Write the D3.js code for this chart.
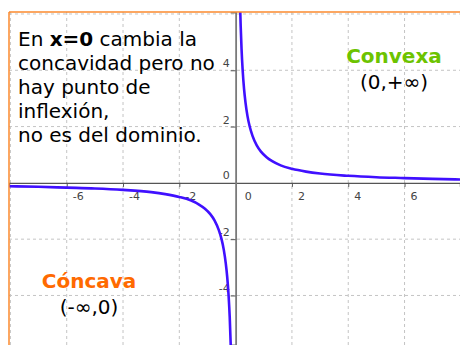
<!DOCTYPE html>
<html>
<head>
<meta charset="utf-8">
<style>
  body { margin: 0; background: #fff; }
  svg { display: block; }
  text { font-family: "DejaVu Sans", Verdana, sans-serif; }
  .grid line { stroke: #c4c4c4; stroke-width: 1; stroke-dasharray: 3,3; }
  .tick-label { font-size: 11px; fill: #444; }
</style>
<script src="https://cdn.jsdelivr.net/npm/d3@7"></script>
</head>
<body>
<svg width="460" height="345"></svg>
<script>

// y = 1/x
var xLeft  = [-8.1, -7, -6, -5, -4, -3, -2.5, -2, -1.6, -1.3, -1.1, -0.9, -0.75, -0.6, -0.5, -0.42, -0.35, -0.3, -0.25, -0.21, -0.17];
var yLeft  = [-0.12, -0.14, -0.17, -0.2, -0.25, -0.33, -0.4, -0.5, -0.62, -0.77, -0.91, -1.11, -1.33, -1.67, -2, -2.38, -2.86, -3.33, -4, -4.76, -5.88];
var xRight = [0.16, 0.18, 0.21, 0.25, 0.3, 0.35, 0.42, 0.5, 0.6, 0.75, 0.9, 1.1, 1.3, 1.6, 2, 2.5, 3, 4, 5, 6, 7, 8.1];
var yRight = [6.25, 5.56, 4.76, 4, 3.33, 2.86, 2.38, 2, 1.67, 1.33, 1.11, 0.91, 0.77, 0.62, 0.5, 0.4, 0.33, 0.25, 0.2, 0.17, 0.14, 0.12];

var xTicks = [-6, -4, -2, 0, 2, 4, 6];
var yTicks = [-4, -2, 0, 2, 4];
var xGrid = [-8, -6, -4, -2, 2, 4, 6];
var yGrid = [-4, -2, 2, 4, 6];

var textLines = [
  [{t: "En ", b: false}, {t: "x=0", b: true}, {t: " cambia la", b: false}],
  [{t: "concavidad pero no", b: false}],
  [{t: "hay punto de", b: false}],
  [{t: "inflexión,", b: false}],
  [{t: "no es del dominio.", b: false}]
];

var svg = d3.select("svg"),
  plotLeft = 9, plotTop = 12,
  width = +svg.attr("width"),
  height = +svg.attr("height");

var x = d3.scaleLinear().domain([-8.05, 7.97]).range([plotLeft, width]);
var y = d3.scaleLinear().domain([6.07, -5.76]).range([plotTop, height]);

svg.append("defs").append("clipPath").attr("id", "plot")
  .append("rect").attr("x", plotLeft).attr("y", plotTop)
  .attr("width", width - plotLeft).attr("height", height - plotTop);

var g = svg.append("g").attr("clip-path", "url(#plot)");

// rejilla
var grid = g.append("g").attr("class", "grid");
grid.selectAll(".gx").data(xGrid).enter().append("line")
  .attr("x1", function (d) { return x(d); })
  .attr("x2", function (d) { return x(d); })
  .attr("y1", plotTop).attr("y2", height);
grid.selectAll(".gy").data(yGrid).enter().append("line")
  .attr("y1", function (d) { return y(d); })
  .attr("y2", function (d) { return y(d); })
  .attr("x1", plotLeft).attr("x2", width);

// ejes
var xAxis = g.append("g")
  .attr("transform", "translate(0," + y(0) + ")")
  .call(d3.axisBottom(x).tickValues(xTicks.filter(function (d) { return d !== 0; }))
    .tickSize(4).tickFormat(""));
xAxis.select(".domain").attr("stroke", "#555").attr("stroke-width", 1.4);
xAxis.selectAll(".tick line").attr("stroke", "#555");

var yAxis = g.append("g")
  .attr("transform", "translate(" + x(0) + ",0)")
  .call(d3.axisLeft(y).tickValues(yTicks.filter(function (d) { return d !== 0; }))
    .tickSize(5).tickFormat(""));
yAxis.select(".domain").attr("stroke", "#7a7a7a").attr("stroke-width", 1.8);
yAxis.selectAll(".tick line").attr("stroke", "#555");

// etiquetas de los ejes
g.selectAll(".xl").data(xTicks).enter().append("text")
  .attr("class", "tick-label")
  .attr("x", function (d) { return x(d) + (d === 0 ? 9 : 6); })
  .attr("y", y(0) + 17)
  .text(function (d) { return d; });

g.selectAll(".yl").data(yTicks).enter().append("text")
  .attr("class", "tick-label")
  .attr("text-anchor", "end")
  .attr("x", x(0) - 6)
  .attr("y", function (d) { return d === 0 ? y(0) - 4 : y(d) - 3; })
  .text(function (d) { return d; });

// curva
var line = d3.line()
  .x(function (d) { return x(d[0]); })
  .y(function (d) { return y(d[1]); })
  .curve(d3.curveMonotoneX);

[[xLeft, yLeft], [xRight, yRight]].forEach(function (s) {
  g.append("path")
    .datum(d3.zip(s[0], s[1]))
    .attr("fill", "none")
    .attr("stroke", "#4010ff")
    .attr("stroke-width", 2.6)
    .attr("d", line);
});

// marco
svg.append("line").attr("x1", plotLeft).attr("x2", width).attr("y1", plotTop).attr("y2", plotTop)
  .attr("stroke", "#fb8a2e").attr("stroke-width", 1.5);
svg.append("line").attr("x1", plotLeft).attr("x2", plotLeft).attr("y1", plotTop).attr("y2", height)
  .attr("stroke", "#fb8a2e").attr("stroke-width", 1.5);

// textos
var note = svg.append("text").style("font-size", "20px").attr("fill", "#000");
textLines.forEach(function (ln, i) {
  var first = true;
  ln.forEach(function (p) {
    var ts = note.append("tspan").text(p.t).style("font-weight", p.b ? "bold" : "normal");
    if (first) { ts.attr("x", 18).attr("y", 46 + i * 24); first = false; }
  });
});

svg.append("text").attr("x", 394).attr("y", 63).attr("text-anchor", "middle")
  .style("font-size", "20px").style("font-weight", "bold").attr("fill", "#6cc300")
  .text("Convexa");
svg.append("text").attr("x", 394).attr("y", 89).attr("text-anchor", "middle")
  .style("font-size", "20px").attr("fill", "#000")
  .text("(0,+∞)");

svg.append("text").attr("x", 89).attr("y", 288).attr("text-anchor", "middle")
  .style("font-size", "20px").style("font-weight", "bold").attr("fill", "#ff6a00")
  .text("Cóncava");
svg.append("text").attr("x", 89).attr("y", 314).attr("text-anchor", "middle")
  .style("font-size", "20px").attr("fill", "#000")
  .text("(-∞,0)");

</script>
</body>
</html>
